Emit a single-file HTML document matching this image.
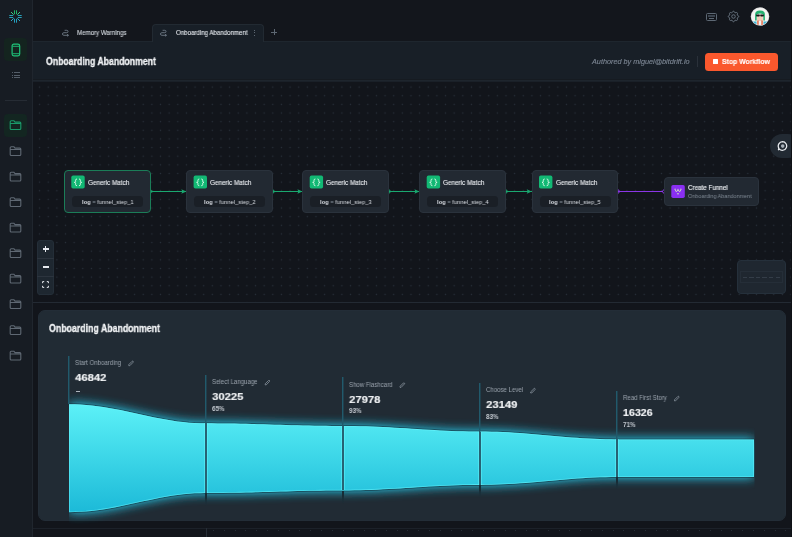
<!DOCTYPE html><html><head><meta charset="utf-8"><style>
*{box-sizing:border-box;margin:0;padding:0}
html,body{width:792px;height:537px;overflow:hidden;background:#12151b;font-family:"Liberation Sans",sans-serif;color:#e6e9ee}
.a{position:absolute}
.t{position:absolute;white-space:nowrap;transform-origin:0 50%;line-height:1;will-change:transform}
</style></head><body><div class="a" style="left:0;top:0;width:32px;height:537px;background:#171c23"></div>
<div class="a" style="left:32px;top:0;width:1px;height:537px;background:#20262e"></div>
<div class="a" style="left:33px;top:0;width:759px;height:41px;background:#13161c"></div>
<div class="a" style="left:33px;top:41px;width:759px;height:40px;background:#181f27"></div>
<div class="a" style="left:33px;top:41px;width:759px;height:1px;background:#1e262e"></div>
<div class="a" style="left:33px;top:79px;width:759px;height:1px;background:#161b21"></div>
<div class="a" style="left:33px;top:80px;width:759px;height:1px;background:#1e252d"></div>
<svg class="a" style="left:0;top:0" width="792" height="537"><defs><pattern id="dp" patternUnits="userSpaceOnUse" x="35.28" y="82.78" width="8.637" height="8.637"><circle cx="4.3185" cy="4.3185" r="0.7" fill="#28303a"/></pattern></defs><rect x="33" y="82" width="759" height="220" fill="#12151b"/><rect x="33" y="82" width="759" height="220" fill="url(#dp)"/></svg>
<div class="a" style="left:33px;top:81px;width:759px;height:1px;background:#1a2028"></div>
<div class="a" style="left:33px;top:302px;width:759px;height:1px;background:#232a33"></div>
<svg class="a" style="left:8px;top:9px" width="15" height="15" viewBox="-7.500 -7.500 15.000 15.000"><g stroke-width="0.9" stroke-linecap="butt" fill="none"><g transform="rotate(0)" stroke="#22c873"><path d="M-1 -2.3 V-6.2 M1 -2.3 V-6.2"/></g><g transform="rotate(180)" stroke="#25aed0"><path d="M-1 -2.3 V-6.2 M1 -2.3 V-6.2"/></g><g transform="rotate(90)" stroke="#2ab0cc"><path d="M-1 -2.3 V-6.2 M1 -2.3 V-6.2"/></g><g transform="rotate(270)" stroke="#2ab0cc"><path d="M-1 -2.3 V-6.2 M1 -2.3 V-6.2"/></g><g transform="rotate(45)" stroke="#3fd88a"><path d="M0 -2.6 V-6.3"/></g><g transform="rotate(-45)" stroke="#3fd88a"><path d="M0 -2.6 V-6.3"/></g><g transform="rotate(135)" stroke="#2ab6d4"><path d="M0 -2.6 V-6.3"/></g><g transform="rotate(-135)" stroke="#2ab6d4"><path d="M0 -2.6 V-6.3"/></g></g></svg>
<div class="a" style="left:4px;top:38px;width:23px;height:23px;background:#14241f;border-radius:4px"></div>
<svg class="a" style="left:11px;top:43px" width="10" height="14" viewBox="0.000 0.000 10.000 14.000"><rect x="1.1" y="1.2" width="7.6" height="11.6" rx="1.8" fill="none" stroke="#1fc47a" stroke-width="1.2"/><path d="M1.5 3.3 H8.3 M1.5 10.7 H8.3" stroke="#1fc47a" stroke-width="0.9"/></svg>
<div class="a" style="left:11.5px;top:72px;width:1px;height:1px;background:#555e69"></div>
<div class="a" style="left:14px;top:72px;width:5.5px;height:1px;background:#555e69"></div>
<div class="a" style="left:11.5px;top:75px;width:1px;height:1px;background:#555e69"></div>
<div class="a" style="left:14px;top:75px;width:5.5px;height:1px;background:#555e69"></div>
<div class="a" style="left:11.5px;top:77px;width:1px;height:1px;background:#555e69"></div>
<div class="a" style="left:14px;top:77px;width:5.5px;height:1px;background:#555e69"></div>
<div class="a" style="left:5px;top:100px;width:22px;height:1px;background:#262c34"></div>
<div class="a" style="left:4px;top:114px;width:23px;height:23px;background:#132621;border-radius:4px"></div>
<svg class="a" style="left:9px;top:119px" width="13" height="12" viewBox="0.000 -0.500 13.000 12.000"><path d="M1.2 2.2 Q1.2 1.2 2.2 1.2 H4.8 L6 2.6 H10.8 Q11.8 2.6 11.8 3.6 V9 Q11.8 10 10.8 10 H2.2 Q1.2 10 1.2 9 Z M1.2 4 H11.8" fill="none" stroke="#1a9a6a" stroke-width="1.1" stroke-linejoin="round"/></svg>
<svg class="a" style="left:9px;top:145px" width="13" height="12" viewBox="0.000 -0.500 13.000 12.000"><path d="M1.2 2.2 Q1.2 1.2 2.2 1.2 H4.8 L6 2.6 H10.8 Q11.8 2.6 11.8 3.6 V9 Q11.8 10 10.8 10 H2.2 Q1.2 10 1.2 9 Z M1.2 4 H11.8" fill="none" stroke="#5f6873" stroke-width="1.1" stroke-linejoin="round"/></svg>
<svg class="a" style="left:9px;top:171px" width="13" height="11" viewBox="0.000 0.000 13.000 11.000"><path d="M1.2 2.2 Q1.2 1.2 2.2 1.2 H4.8 L6 2.6 H10.8 Q11.8 2.6 11.8 3.6 V9 Q11.8 10 10.8 10 H2.2 Q1.2 10 1.2 9 Z M1.2 4 H11.8" fill="none" stroke="#5f6873" stroke-width="1.1" stroke-linejoin="round"/></svg>
<svg class="a" style="left:9px;top:196px" width="13" height="12" viewBox="0.000 -0.500 13.000 12.000"><path d="M1.2 2.2 Q1.2 1.2 2.2 1.2 H4.8 L6 2.6 H10.8 Q11.8 2.6 11.8 3.6 V9 Q11.8 10 10.8 10 H2.2 Q1.2 10 1.2 9 Z M1.2 4 H11.8" fill="none" stroke="#5f6873" stroke-width="1.1" stroke-linejoin="round"/></svg>
<svg class="a" style="left:9px;top:222px" width="13" height="11" viewBox="0.000 0.000 13.000 11.000"><path d="M1.2 2.2 Q1.2 1.2 2.2 1.2 H4.8 L6 2.6 H10.8 Q11.8 2.6 11.8 3.6 V9 Q11.8 10 10.8 10 H2.2 Q1.2 10 1.2 9 Z M1.2 4 H11.8" fill="none" stroke="#5f6873" stroke-width="1.1" stroke-linejoin="round"/></svg>
<svg class="a" style="left:9px;top:247px" width="13" height="12" viewBox="0.000 -0.500 13.000 12.000"><path d="M1.2 2.2 Q1.2 1.2 2.2 1.2 H4.8 L6 2.6 H10.8 Q11.8 2.6 11.8 3.6 V9 Q11.8 10 10.8 10 H2.2 Q1.2 10 1.2 9 Z M1.2 4 H11.8" fill="none" stroke="#5f6873" stroke-width="1.1" stroke-linejoin="round"/></svg>
<svg class="a" style="left:9px;top:273px" width="13" height="11" viewBox="0.000 0.000 13.000 11.000"><path d="M1.2 2.2 Q1.2 1.2 2.2 1.2 H4.8 L6 2.6 H10.8 Q11.8 2.6 11.8 3.6 V9 Q11.8 10 10.8 10 H2.2 Q1.2 10 1.2 9 Z M1.2 4 H11.8" fill="none" stroke="#5f6873" stroke-width="1.1" stroke-linejoin="round"/></svg>
<svg class="a" style="left:9px;top:298px" width="13" height="12" viewBox="0.000 -0.500 13.000 12.000"><path d="M1.2 2.2 Q1.2 1.2 2.2 1.2 H4.8 L6 2.6 H10.8 Q11.8 2.6 11.8 3.6 V9 Q11.8 10 10.8 10 H2.2 Q1.2 10 1.2 9 Z M1.2 4 H11.8" fill="none" stroke="#5f6873" stroke-width="1.1" stroke-linejoin="round"/></svg>
<svg class="a" style="left:9px;top:324px" width="13" height="12" viewBox="0.000 -0.500 13.000 12.000"><path d="M1.2 2.2 Q1.2 1.2 2.2 1.2 H4.8 L6 2.6 H10.8 Q11.8 2.6 11.8 3.6 V9 Q11.8 10 10.8 10 H2.2 Q1.2 10 1.2 9 Z M1.2 4 H11.8" fill="none" stroke="#5f6873" stroke-width="1.1" stroke-linejoin="round"/></svg>
<svg class="a" style="left:9px;top:350px" width="13" height="11" viewBox="0.000 0.000 13.000 11.000"><path d="M1.2 2.2 Q1.2 1.2 2.2 1.2 H4.8 L6 2.6 H10.8 Q11.8 2.6 11.8 3.6 V9 Q11.8 10 10.8 10 H2.2 Q1.2 10 1.2 9 Z M1.2 4 H11.8" fill="none" stroke="#5f6873" stroke-width="1.1" stroke-linejoin="round"/></svg>
<div class="a" style="left:152px;top:24px;width:112px;height:18px;background:#181f27;border:1px solid #222a32;border-bottom:none;border-radius:4px 4px 0 0"></div>
<svg class="a" style="left:61px;top:29px" width="9" height="8" viewBox="-0.500 -0.500 9.000 8.000"><path d="M3.5 0.8 H5.3 Q6.5 0.8 6.5 2 Q6.5 3.2 5.3 3.2 H2.3 Q1 3.2 1 4.5 Q1 5.8 2.3 5.8 H6.8 M5.8 4.9 L6.8 5.8 L5.8 6.6" fill="none" stroke="#6f7a87" stroke-width="0.9" stroke-linecap="round"/></svg>
<div class="t" style="left:76.70px;top:29.66px;font-size:6.6px;color:#d5dae0;font-weight:normal;font-style:normal;transform:scaleX(0.929);-webkit-text-stroke:0.1px #d5dae0">Memory Warnings</div>
<svg class="a" style="left:159px;top:29px" width="9" height="8" viewBox="-0.500 -0.500 9.000 8.000"><path d="M3.5 0.8 H5.3 Q6.5 0.8 6.5 2 Q6.5 3.2 5.3 3.2 H2.3 Q1 3.2 1 4.5 Q1 5.8 2.3 5.8 H6.8 M5.8 4.9 L6.8 5.8 L5.8 6.6" fill="none" stroke="#6f7a87" stroke-width="0.9" stroke-linecap="round"/></svg>
<div class="t" style="left:175.60px;top:29.66px;font-size:6.6px;color:#e3e7ec;font-weight:normal;font-style:normal;transform:scaleX(0.929);-webkit-text-stroke:0.1px #e3e7ec">Onboarding Abandonment</div>
<div class="a" style="left:253.5px;top:30px;width:1px;height:1px;background:#5d6772"></div>
<div class="a" style="left:253.5px;top:32.3px;width:1px;height:1px;background:#5d6772"></div>
<div class="a" style="left:253.5px;top:34.6px;width:1px;height:1px;background:#5d6772"></div>
<div class="a" style="left:271px;top:32px;width:6px;height:1px;background:#5d6772"></div>
<div class="a" style="left:274px;top:29px;width:1px;height:6px;background:#5d6772"></div>
<div class="a" style="left:705.5px;top:12.5px;width:11.5px;height:8.5px;border:1.1px solid #5d6874;border-radius:1.5px"></div>
<div class="a" style="left:707.5px;top:14.5px;width:7.5px;height:2.5px;background:#3b444f"></div>
<div class="a" style="left:708.5px;top:17.8px;width:5.5px;height:1px;background:#5d6874"></div>
<svg class="a" style="left:726px;top:9px" width="15" height="15" viewBox="-0.857 -0.857 25.714 25.714"><path fill="none" stroke="#65707c" stroke-width="1.7" stroke-linejoin="round" d="M10.325 4.317c.426 -1.756 2.924 -1.756 3.35 0a1.724 1.724 0 0 0 2.573 1.066c1.543 -.94 3.31 .826 2.37 2.37a1.724 1.724 0 0 0 1.065 2.572c1.756 .426 1.756 2.924 0 3.35a1.724 1.724 0 0 0 -1.066 2.573c.94 1.543 -.826 3.31 -2.37 2.37a1.724 1.724 0 0 0 -2.572 1.065c-.426 1.756 -2.924 1.756 -3.35 0a1.724 1.724 0 0 0 -2.573 -1.066c-1.543 .94 -3.31 -.826 -2.37 -2.37a1.724 1.724 0 0 0 -1.065 -2.572c-1.756 -.426 -1.756 -2.924 0 -3.35a1.724 1.724 0 0 0 1.066 -2.573c-.94 -1.543 .826 -3.31 2.37 -2.37c1 .608 2.296 .07 2.572 -1.065z"/><circle cx="12" cy="12" r="3" fill="none" stroke="#65707c" stroke-width="1.7"/></svg>
<svg class="a" style="left:750px;top:7px" width="20" height="19" viewBox="-0.500 0.000 20.000 19.000">
<defs><clipPath id="av"><circle cx="9.5" cy="9.5" r="8.6"/></clipPath></defs>
<circle cx="9.5" cy="9.5" r="9.3" fill="#d9d9db"/>
<circle cx="9.5" cy="9.5" r="8.6" fill="#f4f3f1"/>
<g clip-path="url(#av)">
<rect x="2" y="14.5" width="4" height="6" fill="#38b6d6"/><rect x="13" y="14.5" width="4" height="6" fill="#38b6d6"/>
<rect x="6.6" y="9" width="5.8" height="5" rx="1.5" fill="#efc9b9"/>
<path d="M4.6 13.5 V7.5 Q4.6 3.6 9.5 3.6 Q14.4 3.6 14.4 7.5 V13.5 H12.8 V8.2 Q12.8 6.6 9.5 6.6 Q6.2 6.6 6.2 8.2 V13.5 Z" fill="#24b070"/>
<rect x="5.6" y="7.6" width="3.6" height="1.9" rx="0.7" fill="#161616"/><rect x="9.8" y="7.6" width="3.6" height="1.9" rx="0.7" fill="#161616"/><rect x="8" y="7.8" width="3" height="0.6" fill="#161616"/>
<rect x="6.8" y="13.5" width="1.3" height="6" fill="#e85a30"/><rect x="10.9" y="13.5" width="1.3" height="6" fill="#e85a30"/>
</g></svg>
<div class="t" style="left:45.80px;top:56.84px;font-size:10.2px;color:#f1f3f5;font-weight:bold;font-style:normal;transform:scaleX(0.854);-webkit-text-stroke:0.3px #f1f3f5">Onboarding Abandonment</div>
<div class="t" style="left:592.00px;top:58.46px;font-size:7.2px;color:#7d8794;font-weight:normal;font-style:italic;transform:scaleX(1.012);-webkit-text-stroke:0.12px #7d8794">Authored by miguel@bitdrift.io</div>
<div class="a" style="left:697px;top:56px;width:1px;height:10.5px;background:#2a313a"></div>
<div class="a" style="left:705px;top:52.5px;width:73px;height:18px;background:#fa582d;border-radius:3.5px"></div>
<div class="a" style="left:712.5px;top:59px;width:5px;height:5px;background:#ffffff;border-radius:0.5px"></div>
<div class="t" style="left:721.90px;top:58.36px;font-size:7.2px;color:#ffffff;font-weight:bold;font-style:normal;transform:scaleX(0.955);-webkit-text-stroke:0.12px #ffffff">Stop Workflow</div>
<div class="a" style="left:150.5px;top:191.0px;width:35.80000000000001px;height:1px;background:#1aa870"></div>
<svg class="a" style="left:181px;top:188px" width="6" height="7" viewBox="-0.300 -0.500 6.000 7.000"><path d="M0 0.8 L5 3 L0 5.2 L1 3 Z" fill="#1aa870"/></svg>
<svg class="a" style="left:150px;top:188px" width="4" height="7" viewBox="0.000 -0.500 4.000 7.000"><path d="M0.3 0.6 Q1.2 3 3 3 Q1.2 3 0.3 5.4" fill="none" stroke="#1aa870" stroke-width="0.9"/></svg>
<div class="a" style="left:272.8px;top:191.0px;width:29.599999999999966px;height:1px;background:#1aa870"></div>
<svg class="a" style="left:297px;top:188px" width="6" height="7" viewBox="-0.400 -0.500 6.000 7.000"><path d="M0 0.8 L5 3 L0 5.2 L1 3 Z" fill="#1aa870"/></svg>
<svg class="a" style="left:272px;top:188px" width="5" height="7" viewBox="-0.300 -0.500 5.000 7.000"><path d="M0.3 0.6 Q1.2 3 3 3 Q1.2 3 0.3 5.4" fill="none" stroke="#1aa870" stroke-width="0.9"/></svg>
<div class="a" style="left:388.9px;top:191.0px;width:30.5px;height:1px;background:#1aa870"></div>
<svg class="a" style="left:414px;top:188px" width="6" height="7" viewBox="-0.400 -0.500 6.000 7.000"><path d="M0 0.8 L5 3 L0 5.2 L1 3 Z" fill="#1aa870"/></svg>
<svg class="a" style="left:388px;top:188px" width="5" height="7" viewBox="-0.400 -0.500 5.000 7.000"><path d="M0.3 0.6 Q1.2 3 3 3 Q1.2 3 0.3 5.4" fill="none" stroke="#1aa870" stroke-width="0.9"/></svg>
<div class="a" style="left:505.9px;top:191.0px;width:25.800000000000068px;height:1px;background:#1aa870"></div>
<svg class="a" style="left:526px;top:188px" width="6" height="7" viewBox="-0.700 -0.500 6.000 7.000"><path d="M0 0.8 L5 3 L0 5.2 L1 3 Z" fill="#1aa870"/></svg>
<svg class="a" style="left:505px;top:188px" width="5" height="7" viewBox="-0.400 -0.500 5.000 7.000"><path d="M0.3 0.6 Q1.2 3 3 3 Q1.2 3 0.3 5.4" fill="none" stroke="#1aa870" stroke-width="0.9"/></svg>
<div class="a" style="left:618px;top:191.0px;width:45px;height:1px;background:#8a35e6"></div>
<svg class="a" style="left:617px;top:188px" width="5" height="7" viewBox="-0.500 -0.500 5.000 7.000"><path d="M0.3 0.6 Q1.2 3 3 3 Q1.2 3 0.3 5.4" fill="none" stroke="#8a35e6" stroke-width="0.9"/></svg>
<svg class="a" style="left:660px;top:188px" width="5" height="7" viewBox="-0.500 -0.500 5.000 7.000"><path d="M3.7 0.6 Q2.8 3 1 3 Q2.8 3 3.7 5.4" fill="none" stroke="#8a35e6" stroke-width="0.9"/></svg>
<div class="a" style="left:64px;top:170px;width:86.5px;height:42.6px;background:#222932;border:1px solid #1b7d58;border-radius:4px"></div>
<svg class="a" style="left:71px;top:175px" width="14" height="14" viewBox="-0.300 -0.600 14.000 14.000"><rect width="13.4" height="13" rx="1.8" fill="#12b874"/><path d="M5.7 3.4 Q4.3 3.4 4.3 4.6 V5.9 Q4.3 6.75 3.0 6.75 Q4.3 6.75 4.3 7.6 V8.9 Q4.3 10.1 5.7 10.1 M7.7 3.4 Q9.1 3.4 9.1 4.6 V5.9 Q9.1 6.75 10.4 6.75 Q9.1 6.75 9.1 7.6 V8.9 Q9.1 10.1 7.7 10.1" fill="none" stroke="#d8f8e8" stroke-width="0.95"/></svg>
<div class="t" style="left:88.00px;top:179.61px;font-size:6.7px;color:#e8ebef;font-weight:normal;font-style:normal;transform:scaleX(0.950);-webkit-text-stroke:0.12px #e8ebef">Generic Match</div>
<div class="a" style="left:72px;top:196px;width:71px;height:11px;background:#1a1f26;border-radius:3.5px"></div>
<div class="t" style="left:81.70px;top:199.16px;font-size:6.0px;color:#d9dde3;font-weight:normal;font-style:normal;transform:scaleX(0.964);"><b>log</b> <span style="color:#8b95a1">=</span> funnel_step_1</div>
<div class="a" style="left:186.3px;top:170px;width:86.5px;height:42.6px;background:#222932;border:1px solid #2a323c;border-radius:4px"></div>
<svg class="a" style="left:193px;top:175px" width="15" height="14" viewBox="-0.600 -0.600 15.000 14.000"><rect width="13.4" height="13" rx="1.8" fill="#12b874"/><path d="M5.7 3.4 Q4.3 3.4 4.3 4.6 V5.9 Q4.3 6.75 3.0 6.75 Q4.3 6.75 4.3 7.6 V8.9 Q4.3 10.1 5.7 10.1 M7.7 3.4 Q9.1 3.4 9.1 4.6 V5.9 Q9.1 6.75 10.4 6.75 Q9.1 6.75 9.1 7.6 V8.9 Q9.1 10.1 7.7 10.1" fill="none" stroke="#d8f8e8" stroke-width="0.95"/></svg>
<div class="t" style="left:210.30px;top:179.61px;font-size:6.7px;color:#e8ebef;font-weight:normal;font-style:normal;transform:scaleX(0.950);-webkit-text-stroke:0.12px #e8ebef">Generic Match</div>
<div class="a" style="left:194.3px;top:196px;width:71px;height:11px;background:#1a1f26;border-radius:3.5px"></div>
<div class="t" style="left:204.00px;top:199.16px;font-size:6.0px;color:#d9dde3;font-weight:normal;font-style:normal;transform:scaleX(0.964);"><b>log</b> <span style="color:#8b95a1">=</span> funnel_step_2</div>
<div class="a" style="left:302.4px;top:170px;width:86.5px;height:42.6px;background:#222932;border:1px solid #2a323c;border-radius:4px"></div>
<svg class="a" style="left:309px;top:175px" width="15" height="14" viewBox="-0.700 -0.600 15.000 14.000"><rect width="13.4" height="13" rx="1.8" fill="#12b874"/><path d="M5.7 3.4 Q4.3 3.4 4.3 4.6 V5.9 Q4.3 6.75 3.0 6.75 Q4.3 6.75 4.3 7.6 V8.9 Q4.3 10.1 5.7 10.1 M7.7 3.4 Q9.1 3.4 9.1 4.6 V5.9 Q9.1 6.75 10.4 6.75 Q9.1 6.75 9.1 7.6 V8.9 Q9.1 10.1 7.7 10.1" fill="none" stroke="#d8f8e8" stroke-width="0.95"/></svg>
<div class="t" style="left:326.40px;top:179.61px;font-size:6.7px;color:#e8ebef;font-weight:normal;font-style:normal;transform:scaleX(0.950);-webkit-text-stroke:0.12px #e8ebef">Generic Match</div>
<div class="a" style="left:310.4px;top:196px;width:71px;height:11px;background:#1a1f26;border-radius:3.5px"></div>
<div class="t" style="left:320.10px;top:199.16px;font-size:6.0px;color:#d9dde3;font-weight:normal;font-style:normal;transform:scaleX(0.964);"><b>log</b> <span style="color:#8b95a1">=</span> funnel_step_3</div>
<div class="a" style="left:419.4px;top:170px;width:86.5px;height:42.6px;background:#222932;border:1px solid #2a323c;border-radius:4px"></div>
<svg class="a" style="left:426px;top:175px" width="15" height="14" viewBox="-0.700 -0.600 15.000 14.000"><rect width="13.4" height="13" rx="1.8" fill="#12b874"/><path d="M5.7 3.4 Q4.3 3.4 4.3 4.6 V5.9 Q4.3 6.75 3.0 6.75 Q4.3 6.75 4.3 7.6 V8.9 Q4.3 10.1 5.7 10.1 M7.7 3.4 Q9.1 3.4 9.1 4.6 V5.9 Q9.1 6.75 10.4 6.75 Q9.1 6.75 9.1 7.6 V8.9 Q9.1 10.1 7.7 10.1" fill="none" stroke="#d8f8e8" stroke-width="0.95"/></svg>
<div class="t" style="left:443.40px;top:179.61px;font-size:6.7px;color:#e8ebef;font-weight:normal;font-style:normal;transform:scaleX(0.950);-webkit-text-stroke:0.12px #e8ebef">Generic Match</div>
<div class="a" style="left:427.4px;top:196px;width:71px;height:11px;background:#1a1f26;border-radius:3.5px"></div>
<div class="t" style="left:437.10px;top:199.16px;font-size:6.0px;color:#d9dde3;font-weight:normal;font-style:normal;transform:scaleX(0.964);"><b>log</b> <span style="color:#8b95a1">=</span> funnel_step_4</div>
<div class="a" style="left:531.7px;top:170px;width:86.5px;height:42.6px;background:#222932;border:1px solid #2a323c;border-radius:4px"></div>
<svg class="a" style="left:539px;top:175px" width="14" height="14" viewBox="0.000 -0.600 14.000 14.000"><rect width="13.4" height="13" rx="1.8" fill="#12b874"/><path d="M5.7 3.4 Q4.3 3.4 4.3 4.6 V5.9 Q4.3 6.75 3.0 6.75 Q4.3 6.75 4.3 7.6 V8.9 Q4.3 10.1 5.7 10.1 M7.7 3.4 Q9.1 3.4 9.1 4.6 V5.9 Q9.1 6.75 10.4 6.75 Q9.1 6.75 9.1 7.6 V8.9 Q9.1 10.1 7.7 10.1" fill="none" stroke="#d8f8e8" stroke-width="0.95"/></svg>
<div class="t" style="left:555.70px;top:179.61px;font-size:6.7px;color:#e8ebef;font-weight:normal;font-style:normal;transform:scaleX(0.950);-webkit-text-stroke:0.12px #e8ebef">Generic Match</div>
<div class="a" style="left:539.7px;top:196px;width:71px;height:11px;background:#1a1f26;border-radius:3.5px"></div>
<div class="t" style="left:549.40px;top:199.16px;font-size:6.0px;color:#d9dde3;font-weight:normal;font-style:normal;transform:scaleX(0.964);"><b>log</b> <span style="color:#8b95a1">=</span> funnel_step_5</div>
<div class="a" style="left:664px;top:177px;width:95px;height:28.5px;background:#222932;border:1px solid #2a323c;border-radius:4px"></div>
<svg class="a" style="left:671px;top:185px" width="14" height="13" viewBox="0.000 0.000 14.000 13.000"><rect x="0.3" y="0" width="13.5" height="13" rx="1.8" fill="#8a2ff2"/><path d="M4.2 4.6 L5.3 6.8 L7 5.2 L8.7 6.8 L9.8 4.6" fill="none" stroke="#cfe3bd" stroke-width="1" stroke-linejoin="round"/><circle cx="4.1" cy="4.2" r="0.6" fill="#cfe3bd"/><circle cx="7" cy="4.4" r="0.6" fill="#cfe3bd"/><circle cx="9.9" cy="4.2" r="0.6" fill="#cfe3bd"/><path d="M6.1 8.8 H7.9" stroke="#cfe3bd" stroke-width="1"/></svg>
<div class="t" style="left:687.70px;top:184.86px;font-size:6.6px;color:#e8ebef;font-weight:normal;font-style:normal;transform:scaleX(0.949);-webkit-text-stroke:0.15px #e8ebef">Create Funnel</div>
<div class="t" style="left:687.70px;top:193.51px;font-size:5.9px;color:#7f8994;font-weight:normal;font-style:normal;transform:scaleX(0.925);">Onboarding Abandonment</div>
<div class="a" style="left:37px;top:240px;width:17px;height:55px;background:#1e2730;border:1px solid #242e38;border-radius:3px"></div>
<div class="a" style="left:37px;top:257.5px;width:17px;height:1px;background:#2c343e"></div>
<div class="a" style="left:37px;top:276px;width:17px;height:1px;background:#2c343e"></div>
<div class="a" style="left:42.5px;top:248.3px;width:6px;height:1.3px;background:#e6e9ee"></div>
<div class="a" style="left:44.8px;top:246px;width:1.3px;height:6px;background:#e6e9ee"></div>
<div class="a" style="left:42.5px;top:266.3px;width:6px;height:1.3px;background:#e6e9ee"></div>
<svg class="a" style="left:42px;top:281px" width="7" height="7" viewBox="0.000 0.000 7.000 7.000"><path d="M0.6 2.2 V0.6 H2.2 M4.8 0.6 H6.4 V2.2 M6.4 4.8 V6.4 H4.8 M2.2 6.4 H0.6 V4.8" fill="none" stroke="#e6e9ee" stroke-width="1"/></svg>
<div class="a" style="left:770px;top:134px;width:30px;height:24px;background:#222a33;border-radius:12px"></div>
<svg class="a" style="left:777px;top:140px" width="11" height="12" viewBox="0.000 -0.500 11.000 12.000"><path d="M5.5 1.2 A4.3 4.3 0 1 1 2.2 8.4 L1.4 9.6 L1.8 7.6 A4.3 4.3 0 0 1 5.5 1.2 Z" fill="none" stroke="#e8ebef" stroke-width="1.25"/><circle cx="5.7" cy="5.6" r="1.8" fill="#a9b1ba"/></svg>
<div class="a" style="left:737px;top:260px;width:49px;height:34px;background:#1f2730;border:1px solid #25303b;border-radius:4px"></div>
<div class="a" style="left:740px;top:271px;width:43px;height:12px;border:1px solid #252e38"></div>
<div class="a" style="left:742.5px;top:276.5px;width:4.5px;height:1px;background:#343d48"></div>
<div class="a" style="left:749.1px;top:276.5px;width:4.5px;height:1px;background:#343d48"></div>
<div class="a" style="left:755.7px;top:276.5px;width:4.5px;height:1px;background:#343d48"></div>
<div class="a" style="left:762.3px;top:276.5px;width:4.5px;height:1px;background:#343d48"></div>
<div class="a" style="left:768.9px;top:276.5px;width:4.5px;height:1px;background:#343d48"></div>
<div class="a" style="left:775.5px;top:276.5px;width:4.5px;height:1px;background:#343d48"></div>
<div class="a" style="left:790.5px;top:0;width:1.5px;height:537px;background:#0e1115"></div>
<div class="a" style="left:33px;top:303px;width:758px;height:234px;background:#12151b"></div>
<div class="a" style="left:37.5px;top:310px;width:748px;height:211px;background:#212b34;border:1px solid #232d37;border-radius:7px"></div>
<div class="a" style="left:33px;top:528px;width:758px;height:1px;background:#1c2129"></div>
<div class="a" style="left:205.5px;top:528px;width:1px;height:9px;background:#262d36"></div>
<div class="a" style="left:213.0px;top:530px;width:1px;height:1px;background:#262d36"></div>
<div class="a" style="left:223.8px;top:530px;width:1px;height:1px;background:#262d36"></div>
<div class="a" style="left:234.6px;top:530px;width:1px;height:1px;background:#262d36"></div>
<div class="a" style="left:245.4px;top:530px;width:1px;height:1px;background:#262d36"></div>
<div class="a" style="left:256.2px;top:530px;width:1px;height:1px;background:#262d36"></div>
<div class="a" style="left:267.0px;top:530px;width:1px;height:1px;background:#262d36"></div>
<div class="a" style="left:277.8px;top:530px;width:1px;height:1px;background:#262d36"></div>
<div class="a" style="left:288.6px;top:530px;width:1px;height:1px;background:#262d36"></div>
<div class="a" style="left:299.4px;top:530px;width:1px;height:1px;background:#262d36"></div>
<div class="a" style="left:310.2px;top:530px;width:1px;height:1px;background:#262d36"></div>
<div class="a" style="left:321.0px;top:530px;width:1px;height:1px;background:#262d36"></div>
<div class="a" style="left:331.8px;top:530px;width:1px;height:1px;background:#262d36"></div>
<div class="a" style="left:342.6px;top:530px;width:1px;height:1px;background:#262d36"></div>
<div class="a" style="left:353.4px;top:530px;width:1px;height:1px;background:#262d36"></div>
<div class="a" style="left:364.2px;top:530px;width:1px;height:1px;background:#262d36"></div>
<div class="a" style="left:375.0px;top:530px;width:1px;height:1px;background:#262d36"></div>
<div class="a" style="left:385.8px;top:530px;width:1px;height:1px;background:#262d36"></div>
<div class="a" style="left:396.6px;top:530px;width:1px;height:1px;background:#262d36"></div>
<div class="a" style="left:407.4px;top:530px;width:1px;height:1px;background:#262d36"></div>
<div class="a" style="left:418.2px;top:530px;width:1px;height:1px;background:#262d36"></div>
<div class="a" style="left:429.0px;top:530px;width:1px;height:1px;background:#262d36"></div>
<div class="a" style="left:439.8px;top:530px;width:1px;height:1px;background:#262d36"></div>
<div class="a" style="left:450.6px;top:530px;width:1px;height:1px;background:#262d36"></div>
<div class="a" style="left:461.4px;top:530px;width:1px;height:1px;background:#262d36"></div>
<div class="a" style="left:472.2px;top:530px;width:1px;height:1px;background:#262d36"></div>
<div class="a" style="left:483.0px;top:530px;width:1px;height:1px;background:#262d36"></div>
<div class="a" style="left:493.8px;top:530px;width:1px;height:1px;background:#262d36"></div>
<div class="a" style="left:504.6px;top:530px;width:1px;height:1px;background:#262d36"></div>
<div class="a" style="left:515.4px;top:530px;width:1px;height:1px;background:#262d36"></div>
<div class="a" style="left:526.2px;top:530px;width:1px;height:1px;background:#262d36"></div>
<div class="a" style="left:537.0px;top:530px;width:1px;height:1px;background:#262d36"></div>
<div class="a" style="left:547.8px;top:530px;width:1px;height:1px;background:#262d36"></div>
<div class="a" style="left:558.6px;top:530px;width:1px;height:1px;background:#262d36"></div>
<div class="a" style="left:569.4px;top:530px;width:1px;height:1px;background:#262d36"></div>
<div class="a" style="left:580.2px;top:530px;width:1px;height:1px;background:#262d36"></div>
<div class="a" style="left:591.0px;top:530px;width:1px;height:1px;background:#262d36"></div>
<div class="a" style="left:601.8px;top:530px;width:1px;height:1px;background:#262d36"></div>
<div class="a" style="left:612.6px;top:530px;width:1px;height:1px;background:#262d36"></div>
<div class="a" style="left:623.4px;top:530px;width:1px;height:1px;background:#262d36"></div>
<div class="a" style="left:634.2px;top:530px;width:1px;height:1px;background:#262d36"></div>
<div class="a" style="left:645.0px;top:530px;width:1px;height:1px;background:#262d36"></div>
<div class="a" style="left:655.8px;top:530px;width:1px;height:1px;background:#262d36"></div>
<div class="a" style="left:666.6px;top:530px;width:1px;height:1px;background:#262d36"></div>
<div class="a" style="left:677.4px;top:530px;width:1px;height:1px;background:#262d36"></div>
<div class="a" style="left:688.2px;top:530px;width:1px;height:1px;background:#262d36"></div>
<div class="a" style="left:699.0px;top:530px;width:1px;height:1px;background:#262d36"></div>
<div class="a" style="left:709.8px;top:530px;width:1px;height:1px;background:#262d36"></div>
<div class="a" style="left:720.6px;top:530px;width:1px;height:1px;background:#262d36"></div>
<div class="a" style="left:731.4px;top:530px;width:1px;height:1px;background:#262d36"></div>
<div class="a" style="left:742.2px;top:530px;width:1px;height:1px;background:#262d36"></div>
<div class="a" style="left:753.0px;top:530px;width:1px;height:1px;background:#262d36"></div>
<div class="a" style="left:763.8px;top:530px;width:1px;height:1px;background:#262d36"></div>
<div class="a" style="left:774.6px;top:530px;width:1px;height:1px;background:#262d36"></div>
<div class="a" style="left:785.4px;top:530px;width:1px;height:1px;background:#262d36"></div>
<div class="t" style="left:49.00px;top:323.94px;font-size:10.2px;color:#f1f3f5;font-weight:bold;font-style:normal;transform:scaleX(0.862);-webkit-text-stroke:0.3px #f1f3f5">Onboarding Abandonment</div>
<svg class="a" style="left:0;top:0" width="792" height="537">
<defs>
<linearGradient id="fg" x1="0" y1="404" x2="0" y2="512" gradientUnits="userSpaceOnUse"><stop offset="0" stop-color="#5cf1f7"/><stop offset="1" stop-color="#1cbad8"/></linearGradient>
<filter id="glow" x="-20%" y="-40%" width="140%" height="180%"><feGaussianBlur stdDeviation="6"/><feComponentTransfer><feFuncA type="linear" slope="1.9"/></feComponentTransfer></filter>
<clipPath id="gc"><rect x="69" y="380" width="685.5" height="150"/></clipPath>
</defs>
<clipPath id="fcp"><path d="M69.00 404.20 L74.71 404.28 L80.42 404.53 L86.12 404.93 L91.83 405.48 L97.54 406.18 L103.25 407.01 L108.96 407.95 L114.67 408.99 L120.38 410.11 L126.08 411.30 L131.79 412.53 L137.50 413.78 L143.21 415.03 L148.92 416.26 L154.62 417.44 L160.33 418.57 L166.04 419.61 L171.75 420.55 L177.46 421.38 L183.17 422.07 L188.88 422.63 L194.58 423.03 L200.29 423.27 L206.00 423.36 L211.71 423.37 L217.42 423.40 L223.12 423.45 L228.83 423.53 L234.54 423.62 L240.25 423.74 L245.96 423.86 L251.67 424.00 L257.38 424.16 L263.08 424.32 L268.79 424.48 L274.50 424.65 L280.21 424.82 L285.92 424.99 L291.62 425.15 L297.33 425.30 L303.04 425.44 L308.75 425.57 L314.46 425.68 L320.17 425.77 L325.88 425.85 L331.58 425.90 L337.29 425.94 L343.00 425.95 L348.71 425.97 L354.42 426.04 L360.12 426.16 L365.83 426.32 L371.54 426.52 L377.25 426.76 L382.96 427.04 L388.67 427.34 L394.38 427.66 L400.08 428.01 L405.79 428.37 L411.50 428.73 L417.21 429.09 L422.92 429.45 L428.62 429.80 L434.33 430.12 L440.04 430.42 L445.75 430.70 L451.46 430.94 L457.17 431.14 L462.88 431.30 L468.58 431.42 L474.29 431.49 L480.00 431.51 L485.71 431.55 L491.42 431.65 L497.12 431.81 L502.83 432.04 L508.54 432.33 L514.25 432.67 L519.96 433.05 L525.67 433.48 L531.38 433.94 L537.08 434.43 L542.79 434.93 L548.50 435.45 L554.21 435.96 L559.92 436.46 L565.62 436.95 L571.33 437.41 L577.04 437.84 L582.75 438.23 L588.46 438.57 L594.17 438.85 L599.88 439.08 L605.58 439.25 L611.29 439.35 L617.00 439.38 L622.71 439.38 L628.42 439.38 L634.12 439.38 L639.83 439.38 L645.54 439.38 L651.25 439.38 L656.96 439.38 L662.67 439.38 L668.38 439.38 L674.08 439.38 L679.79 439.38 L685.50 439.38 L691.21 439.38 L696.92 439.38 L702.62 439.38 L708.33 439.38 L714.04 439.38 L719.75 439.38 L725.46 439.38 L731.17 439.38 L736.88 439.38 L742.58 439.38 L748.29 439.38 L754.00 439.38 L754.00 477.02 L748.29 477.02 L742.58 477.02 L736.88 477.02 L731.17 477.02 L725.46 477.02 L719.75 477.02 L714.04 477.02 L708.33 477.02 L702.62 477.02 L696.92 477.02 L691.21 477.02 L685.50 477.02 L679.79 477.02 L674.08 477.02 L668.38 477.02 L662.67 477.02 L656.96 477.02 L651.25 477.02 L645.54 477.02 L639.83 477.02 L634.12 477.02 L628.42 477.02 L622.71 477.02 L617.00 477.02 L611.29 477.05 L605.58 477.15 L599.88 477.32 L594.17 477.55 L588.46 477.83 L582.75 478.17 L577.04 478.56 L571.33 478.99 L565.62 479.45 L559.92 479.94 L554.21 480.44 L548.50 480.95 L542.79 481.47 L537.08 481.97 L531.38 482.46 L525.67 482.92 L519.96 483.35 L514.25 483.73 L508.54 484.07 L502.83 484.36 L497.12 484.59 L491.42 484.75 L485.71 484.85 L480.00 484.89 L474.29 484.91 L468.58 484.98 L462.88 485.10 L457.17 485.26 L451.46 485.46 L445.75 485.70 L440.04 485.98 L434.33 486.28 L428.62 486.60 L422.92 486.95 L417.21 487.31 L411.50 487.67 L405.79 488.03 L400.08 488.39 L394.38 488.74 L388.67 489.06 L382.96 489.36 L377.25 489.64 L371.54 489.88 L365.83 490.08 L360.12 490.24 L354.42 490.36 L348.71 490.43 L343.00 490.45 L337.29 490.46 L331.58 490.50 L325.88 490.55 L320.17 490.63 L314.46 490.72 L308.75 490.83 L303.04 490.96 L297.33 491.10 L291.62 491.25 L285.92 491.41 L280.21 491.58 L274.50 491.75 L268.79 491.92 L263.08 492.08 L257.38 492.24 L251.67 492.40 L245.96 492.54 L240.25 492.66 L234.54 492.78 L228.83 492.87 L223.12 492.95 L217.42 493.00 L211.71 493.03 L206.00 493.04 L200.29 493.13 L194.58 493.37 L188.88 493.77 L183.17 494.33 L177.46 495.02 L171.75 495.85 L166.04 496.79 L160.33 497.83 L154.62 498.96 L148.92 500.14 L143.21 501.37 L137.50 502.62 L131.79 503.87 L126.08 505.10 L120.38 506.29 L114.67 507.41 L108.96 508.45 L103.25 509.39 L97.54 510.22 L91.83 510.92 L86.12 511.47 L80.42 511.87 L74.71 512.12 L69.00 512.20 Z"/></clipPath>
<g clip-path="url(#gc)"><path d="M69.00 404.20 L74.71 404.28 L80.42 404.53 L86.12 404.93 L91.83 405.48 L97.54 406.18 L103.25 407.01 L108.96 407.95 L114.67 408.99 L120.38 410.11 L126.08 411.30 L131.79 412.53 L137.50 413.78 L143.21 415.03 L148.92 416.26 L154.62 417.44 L160.33 418.57 L166.04 419.61 L171.75 420.55 L177.46 421.38 L183.17 422.07 L188.88 422.63 L194.58 423.03 L200.29 423.27 L206.00 423.36 L211.71 423.37 L217.42 423.40 L223.12 423.45 L228.83 423.53 L234.54 423.62 L240.25 423.74 L245.96 423.86 L251.67 424.00 L257.38 424.16 L263.08 424.32 L268.79 424.48 L274.50 424.65 L280.21 424.82 L285.92 424.99 L291.62 425.15 L297.33 425.30 L303.04 425.44 L308.75 425.57 L314.46 425.68 L320.17 425.77 L325.88 425.85 L331.58 425.90 L337.29 425.94 L343.00 425.95 L348.71 425.97 L354.42 426.04 L360.12 426.16 L365.83 426.32 L371.54 426.52 L377.25 426.76 L382.96 427.04 L388.67 427.34 L394.38 427.66 L400.08 428.01 L405.79 428.37 L411.50 428.73 L417.21 429.09 L422.92 429.45 L428.62 429.80 L434.33 430.12 L440.04 430.42 L445.75 430.70 L451.46 430.94 L457.17 431.14 L462.88 431.30 L468.58 431.42 L474.29 431.49 L480.00 431.51 L485.71 431.55 L491.42 431.65 L497.12 431.81 L502.83 432.04 L508.54 432.33 L514.25 432.67 L519.96 433.05 L525.67 433.48 L531.38 433.94 L537.08 434.43 L542.79 434.93 L548.50 435.45 L554.21 435.96 L559.92 436.46 L565.62 436.95 L571.33 437.41 L577.04 437.84 L582.75 438.23 L588.46 438.57 L594.17 438.85 L599.88 439.08 L605.58 439.25 L611.29 439.35 L617.00 439.38 L622.71 439.38 L628.42 439.38 L634.12 439.38 L639.83 439.38 L645.54 439.38 L651.25 439.38 L656.96 439.38 L662.67 439.38 L668.38 439.38 L674.08 439.38 L679.79 439.38 L685.50 439.38 L691.21 439.38 L696.92 439.38 L702.62 439.38 L708.33 439.38 L714.04 439.38 L719.75 439.38 L725.46 439.38 L731.17 439.38 L736.88 439.38 L742.58 439.38 L748.29 439.38 L754.00 439.38 L754.00 477.02 L748.29 477.02 L742.58 477.02 L736.88 477.02 L731.17 477.02 L725.46 477.02 L719.75 477.02 L714.04 477.02 L708.33 477.02 L702.62 477.02 L696.92 477.02 L691.21 477.02 L685.50 477.02 L679.79 477.02 L674.08 477.02 L668.38 477.02 L662.67 477.02 L656.96 477.02 L651.25 477.02 L645.54 477.02 L639.83 477.02 L634.12 477.02 L628.42 477.02 L622.71 477.02 L617.00 477.02 L611.29 477.05 L605.58 477.15 L599.88 477.32 L594.17 477.55 L588.46 477.83 L582.75 478.17 L577.04 478.56 L571.33 478.99 L565.62 479.45 L559.92 479.94 L554.21 480.44 L548.50 480.95 L542.79 481.47 L537.08 481.97 L531.38 482.46 L525.67 482.92 L519.96 483.35 L514.25 483.73 L508.54 484.07 L502.83 484.36 L497.12 484.59 L491.42 484.75 L485.71 484.85 L480.00 484.89 L474.29 484.91 L468.58 484.98 L462.88 485.10 L457.17 485.26 L451.46 485.46 L445.75 485.70 L440.04 485.98 L434.33 486.28 L428.62 486.60 L422.92 486.95 L417.21 487.31 L411.50 487.67 L405.79 488.03 L400.08 488.39 L394.38 488.74 L388.67 489.06 L382.96 489.36 L377.25 489.64 L371.54 489.88 L365.83 490.08 L360.12 490.24 L354.42 490.36 L348.71 490.43 L343.00 490.45 L337.29 490.46 L331.58 490.50 L325.88 490.55 L320.17 490.63 L314.46 490.72 L308.75 490.83 L303.04 490.96 L297.33 491.10 L291.62 491.25 L285.92 491.41 L280.21 491.58 L274.50 491.75 L268.79 491.92 L263.08 492.08 L257.38 492.24 L251.67 492.40 L245.96 492.54 L240.25 492.66 L234.54 492.78 L228.83 492.87 L223.12 492.95 L217.42 493.00 L211.71 493.03 L206.00 493.04 L200.29 493.13 L194.58 493.37 L188.88 493.77 L183.17 494.33 L177.46 495.02 L171.75 495.85 L166.04 496.79 L160.33 497.83 L154.62 498.96 L148.92 500.14 L143.21 501.37 L137.50 502.62 L131.79 503.87 L126.08 505.10 L120.38 506.29 L114.67 507.41 L108.96 508.45 L103.25 509.39 L97.54 510.22 L91.83 510.92 L86.12 511.47 L80.42 511.87 L74.71 512.12 L69.00 512.20 Z" fill="#26b3d0" opacity="0.75" filter="url(#glow)"/><path d="M69.00 404.20 L74.71 404.28 L80.42 404.53 L86.12 404.93 L91.83 405.48 L97.54 406.18 L103.25 407.01 L108.96 407.95 L114.67 408.99 L120.38 410.11 L126.08 411.30 L131.79 412.53 L137.50 413.78 L143.21 415.03 L148.92 416.26 L154.62 417.44 L160.33 418.57 L166.04 419.61 L171.75 420.55 L177.46 421.38 L183.17 422.07 L188.88 422.63 L194.58 423.03 L200.29 423.27 L206.00 423.36 L211.71 423.37 L217.42 423.40 L223.12 423.45 L228.83 423.53 L234.54 423.62 L240.25 423.74 L245.96 423.86 L251.67 424.00 L257.38 424.16 L263.08 424.32 L268.79 424.48 L274.50 424.65 L280.21 424.82 L285.92 424.99 L291.62 425.15 L297.33 425.30 L303.04 425.44 L308.75 425.57 L314.46 425.68 L320.17 425.77 L325.88 425.85 L331.58 425.90 L337.29 425.94 L343.00 425.95 L348.71 425.97 L354.42 426.04 L360.12 426.16 L365.83 426.32 L371.54 426.52 L377.25 426.76 L382.96 427.04 L388.67 427.34 L394.38 427.66 L400.08 428.01 L405.79 428.37 L411.50 428.73 L417.21 429.09 L422.92 429.45 L428.62 429.80 L434.33 430.12 L440.04 430.42 L445.75 430.70 L451.46 430.94 L457.17 431.14 L462.88 431.30 L468.58 431.42 L474.29 431.49 L480.00 431.51 L485.71 431.55 L491.42 431.65 L497.12 431.81 L502.83 432.04 L508.54 432.33 L514.25 432.67 L519.96 433.05 L525.67 433.48 L531.38 433.94 L537.08 434.43 L542.79 434.93 L548.50 435.45 L554.21 435.96 L559.92 436.46 L565.62 436.95 L571.33 437.41 L577.04 437.84 L582.75 438.23 L588.46 438.57 L594.17 438.85 L599.88 439.08 L605.58 439.25 L611.29 439.35 L617.00 439.38 L622.71 439.38 L628.42 439.38 L634.12 439.38 L639.83 439.38 L645.54 439.38 L651.25 439.38 L656.96 439.38 L662.67 439.38 L668.38 439.38 L674.08 439.38 L679.79 439.38 L685.50 439.38 L691.21 439.38 L696.92 439.38 L702.62 439.38 L708.33 439.38 L714.04 439.38 L719.75 439.38 L725.46 439.38 L731.17 439.38 L736.88 439.38 L742.58 439.38 L748.29 439.38 L754.00 439.38 L754.00 477.02 L748.29 477.02 L742.58 477.02 L736.88 477.02 L731.17 477.02 L725.46 477.02 L719.75 477.02 L714.04 477.02 L708.33 477.02 L702.62 477.02 L696.92 477.02 L691.21 477.02 L685.50 477.02 L679.79 477.02 L674.08 477.02 L668.38 477.02 L662.67 477.02 L656.96 477.02 L651.25 477.02 L645.54 477.02 L639.83 477.02 L634.12 477.02 L628.42 477.02 L622.71 477.02 L617.00 477.02 L611.29 477.05 L605.58 477.15 L599.88 477.32 L594.17 477.55 L588.46 477.83 L582.75 478.17 L577.04 478.56 L571.33 478.99 L565.62 479.45 L559.92 479.94 L554.21 480.44 L548.50 480.95 L542.79 481.47 L537.08 481.97 L531.38 482.46 L525.67 482.92 L519.96 483.35 L514.25 483.73 L508.54 484.07 L502.83 484.36 L497.12 484.59 L491.42 484.75 L485.71 484.85 L480.00 484.89 L474.29 484.91 L468.58 484.98 L462.88 485.10 L457.17 485.26 L451.46 485.46 L445.75 485.70 L440.04 485.98 L434.33 486.28 L428.62 486.60 L422.92 486.95 L417.21 487.31 L411.50 487.67 L405.79 488.03 L400.08 488.39 L394.38 488.74 L388.67 489.06 L382.96 489.36 L377.25 489.64 L371.54 489.88 L365.83 490.08 L360.12 490.24 L354.42 490.36 L348.71 490.43 L343.00 490.45 L337.29 490.46 L331.58 490.50 L325.88 490.55 L320.17 490.63 L314.46 490.72 L308.75 490.83 L303.04 490.96 L297.33 491.10 L291.62 491.25 L285.92 491.41 L280.21 491.58 L274.50 491.75 L268.79 491.92 L263.08 492.08 L257.38 492.24 L251.67 492.40 L245.96 492.54 L240.25 492.66 L234.54 492.78 L228.83 492.87 L223.12 492.95 L217.42 493.00 L211.71 493.03 L206.00 493.04 L200.29 493.13 L194.58 493.37 L188.88 493.77 L183.17 494.33 L177.46 495.02 L171.75 495.85 L166.04 496.79 L160.33 497.83 L154.62 498.96 L148.92 500.14 L143.21 501.37 L137.50 502.62 L131.79 503.87 L126.08 505.10 L120.38 506.29 L114.67 507.41 L108.96 508.45 L103.25 509.39 L97.54 510.22 L91.83 510.92 L86.12 511.47 L80.42 511.87 L74.71 512.12 L69.00 512.20 Z" fill="none" stroke="#14222b" stroke-width="2" opacity="0.5"/></g>
<path d="M69.00 404.20 L74.71 404.28 L80.42 404.53 L86.12 404.93 L91.83 405.48 L97.54 406.18 L103.25 407.01 L108.96 407.95 L114.67 408.99 L120.38 410.11 L126.08 411.30 L131.79 412.53 L137.50 413.78 L143.21 415.03 L148.92 416.26 L154.62 417.44 L160.33 418.57 L166.04 419.61 L171.75 420.55 L177.46 421.38 L183.17 422.07 L188.88 422.63 L194.58 423.03 L200.29 423.27 L206.00 423.36 L211.71 423.37 L217.42 423.40 L223.12 423.45 L228.83 423.53 L234.54 423.62 L240.25 423.74 L245.96 423.86 L251.67 424.00 L257.38 424.16 L263.08 424.32 L268.79 424.48 L274.50 424.65 L280.21 424.82 L285.92 424.99 L291.62 425.15 L297.33 425.30 L303.04 425.44 L308.75 425.57 L314.46 425.68 L320.17 425.77 L325.88 425.85 L331.58 425.90 L337.29 425.94 L343.00 425.95 L348.71 425.97 L354.42 426.04 L360.12 426.16 L365.83 426.32 L371.54 426.52 L377.25 426.76 L382.96 427.04 L388.67 427.34 L394.38 427.66 L400.08 428.01 L405.79 428.37 L411.50 428.73 L417.21 429.09 L422.92 429.45 L428.62 429.80 L434.33 430.12 L440.04 430.42 L445.75 430.70 L451.46 430.94 L457.17 431.14 L462.88 431.30 L468.58 431.42 L474.29 431.49 L480.00 431.51 L485.71 431.55 L491.42 431.65 L497.12 431.81 L502.83 432.04 L508.54 432.33 L514.25 432.67 L519.96 433.05 L525.67 433.48 L531.38 433.94 L537.08 434.43 L542.79 434.93 L548.50 435.45 L554.21 435.96 L559.92 436.46 L565.62 436.95 L571.33 437.41 L577.04 437.84 L582.75 438.23 L588.46 438.57 L594.17 438.85 L599.88 439.08 L605.58 439.25 L611.29 439.35 L617.00 439.38 L622.71 439.38 L628.42 439.38 L634.12 439.38 L639.83 439.38 L645.54 439.38 L651.25 439.38 L656.96 439.38 L662.67 439.38 L668.38 439.38 L674.08 439.38 L679.79 439.38 L685.50 439.38 L691.21 439.38 L696.92 439.38 L702.62 439.38 L708.33 439.38 L714.04 439.38 L719.75 439.38 L725.46 439.38 L731.17 439.38 L736.88 439.38 L742.58 439.38 L748.29 439.38 L754.00 439.38 L754.00 477.02 L748.29 477.02 L742.58 477.02 L736.88 477.02 L731.17 477.02 L725.46 477.02 L719.75 477.02 L714.04 477.02 L708.33 477.02 L702.62 477.02 L696.92 477.02 L691.21 477.02 L685.50 477.02 L679.79 477.02 L674.08 477.02 L668.38 477.02 L662.67 477.02 L656.96 477.02 L651.25 477.02 L645.54 477.02 L639.83 477.02 L634.12 477.02 L628.42 477.02 L622.71 477.02 L617.00 477.02 L611.29 477.05 L605.58 477.15 L599.88 477.32 L594.17 477.55 L588.46 477.83 L582.75 478.17 L577.04 478.56 L571.33 478.99 L565.62 479.45 L559.92 479.94 L554.21 480.44 L548.50 480.95 L542.79 481.47 L537.08 481.97 L531.38 482.46 L525.67 482.92 L519.96 483.35 L514.25 483.73 L508.54 484.07 L502.83 484.36 L497.12 484.59 L491.42 484.75 L485.71 484.85 L480.00 484.89 L474.29 484.91 L468.58 484.98 L462.88 485.10 L457.17 485.26 L451.46 485.46 L445.75 485.70 L440.04 485.98 L434.33 486.28 L428.62 486.60 L422.92 486.95 L417.21 487.31 L411.50 487.67 L405.79 488.03 L400.08 488.39 L394.38 488.74 L388.67 489.06 L382.96 489.36 L377.25 489.64 L371.54 489.88 L365.83 490.08 L360.12 490.24 L354.42 490.36 L348.71 490.43 L343.00 490.45 L337.29 490.46 L331.58 490.50 L325.88 490.55 L320.17 490.63 L314.46 490.72 L308.75 490.83 L303.04 490.96 L297.33 491.10 L291.62 491.25 L285.92 491.41 L280.21 491.58 L274.50 491.75 L268.79 491.92 L263.08 492.08 L257.38 492.24 L251.67 492.40 L245.96 492.54 L240.25 492.66 L234.54 492.78 L228.83 492.87 L223.12 492.95 L217.42 493.00 L211.71 493.03 L206.00 493.04 L200.29 493.13 L194.58 493.37 L188.88 493.77 L183.17 494.33 L177.46 495.02 L171.75 495.85 L166.04 496.79 L160.33 497.83 L154.62 498.96 L148.92 500.14 L143.21 501.37 L137.50 502.62 L131.79 503.87 L126.08 505.10 L120.38 506.29 L114.67 507.41 L108.96 508.45 L103.25 509.39 L97.54 510.22 L91.83 510.92 L86.12 511.47 L80.42 511.87 L74.71 512.12 L69.00 512.20 Z" fill="url(#fg)"/>
<path d="M69.00 404.20 L74.71 404.28 L80.42 404.53 L86.12 404.93 L91.83 405.48 L97.54 406.18 L103.25 407.01 L108.96 407.95 L114.67 408.99 L120.38 410.11 L126.08 411.30 L131.79 412.53 L137.50 413.78 L143.21 415.03 L148.92 416.26 L154.62 417.44 L160.33 418.57 L166.04 419.61 L171.75 420.55 L177.46 421.38 L183.17 422.07 L188.88 422.63 L194.58 423.03 L200.29 423.27 L206.00 423.36 L211.71 423.37 L217.42 423.40 L223.12 423.45 L228.83 423.53 L234.54 423.62 L240.25 423.74 L245.96 423.86 L251.67 424.00 L257.38 424.16 L263.08 424.32 L268.79 424.48 L274.50 424.65 L280.21 424.82 L285.92 424.99 L291.62 425.15 L297.33 425.30 L303.04 425.44 L308.75 425.57 L314.46 425.68 L320.17 425.77 L325.88 425.85 L331.58 425.90 L337.29 425.94 L343.00 425.95 L348.71 425.97 L354.42 426.04 L360.12 426.16 L365.83 426.32 L371.54 426.52 L377.25 426.76 L382.96 427.04 L388.67 427.34 L394.38 427.66 L400.08 428.01 L405.79 428.37 L411.50 428.73 L417.21 429.09 L422.92 429.45 L428.62 429.80 L434.33 430.12 L440.04 430.42 L445.75 430.70 L451.46 430.94 L457.17 431.14 L462.88 431.30 L468.58 431.42 L474.29 431.49 L480.00 431.51 L485.71 431.55 L491.42 431.65 L497.12 431.81 L502.83 432.04 L508.54 432.33 L514.25 432.67 L519.96 433.05 L525.67 433.48 L531.38 433.94 L537.08 434.43 L542.79 434.93 L548.50 435.45 L554.21 435.96 L559.92 436.46 L565.62 436.95 L571.33 437.41 L577.04 437.84 L582.75 438.23 L588.46 438.57 L594.17 438.85 L599.88 439.08 L605.58 439.25 L611.29 439.35 L617.00 439.38 L622.71 439.38 L628.42 439.38 L634.12 439.38 L639.83 439.38 L645.54 439.38 L651.25 439.38 L656.96 439.38 L662.67 439.38 L668.38 439.38 L674.08 439.38 L679.79 439.38 L685.50 439.38 L691.21 439.38 L696.92 439.38 L702.62 439.38 L708.33 439.38 L714.04 439.38 L719.75 439.38 L725.46 439.38 L731.17 439.38 L736.88 439.38 L742.58 439.38 L748.29 439.38 L754.00 439.38 L754.00 477.02 L748.29 477.02 L742.58 477.02 L736.88 477.02 L731.17 477.02 L725.46 477.02 L719.75 477.02 L714.04 477.02 L708.33 477.02 L702.62 477.02 L696.92 477.02 L691.21 477.02 L685.50 477.02 L679.79 477.02 L674.08 477.02 L668.38 477.02 L662.67 477.02 L656.96 477.02 L651.25 477.02 L645.54 477.02 L639.83 477.02 L634.12 477.02 L628.42 477.02 L622.71 477.02 L617.00 477.02 L611.29 477.05 L605.58 477.15 L599.88 477.32 L594.17 477.55 L588.46 477.83 L582.75 478.17 L577.04 478.56 L571.33 478.99 L565.62 479.45 L559.92 479.94 L554.21 480.44 L548.50 480.95 L542.79 481.47 L537.08 481.97 L531.38 482.46 L525.67 482.92 L519.96 483.35 L514.25 483.73 L508.54 484.07 L502.83 484.36 L497.12 484.59 L491.42 484.75 L485.71 484.85 L480.00 484.89 L474.29 484.91 L468.58 484.98 L462.88 485.10 L457.17 485.26 L451.46 485.46 L445.75 485.70 L440.04 485.98 L434.33 486.28 L428.62 486.60 L422.92 486.95 L417.21 487.31 L411.50 487.67 L405.79 488.03 L400.08 488.39 L394.38 488.74 L388.67 489.06 L382.96 489.36 L377.25 489.64 L371.54 489.88 L365.83 490.08 L360.12 490.24 L354.42 490.36 L348.71 490.43 L343.00 490.45 L337.29 490.46 L331.58 490.50 L325.88 490.55 L320.17 490.63 L314.46 490.72 L308.75 490.83 L303.04 490.96 L297.33 491.10 L291.62 491.25 L285.92 491.41 L280.21 491.58 L274.50 491.75 L268.79 491.92 L263.08 492.08 L257.38 492.24 L251.67 492.40 L245.96 492.54 L240.25 492.66 L234.54 492.78 L228.83 492.87 L223.12 492.95 L217.42 493.00 L211.71 493.03 L206.00 493.04 L200.29 493.13 L194.58 493.37 L188.88 493.77 L183.17 494.33 L177.46 495.02 L171.75 495.85 L166.04 496.79 L160.33 497.83 L154.62 498.96 L148.92 500.14 L143.21 501.37 L137.50 502.62 L131.79 503.87 L126.08 505.10 L120.38 506.29 L114.67 507.41 L108.96 508.45 L103.25 509.39 L97.54 510.22 L91.83 510.92 L86.12 511.47 L80.42 511.87 L74.71 512.12 L69.00 512.20 Z" fill="none" stroke="#6af8ff" stroke-width="1.6" opacity="0.55" clip-path="url(#fcp)"/>
</svg>
<div class="a" style="left:68px;top:355.7px;width:2px;height:48.5px;background:linear-gradient(90deg,#215a6c 0 1px,rgba(33,90,108,0.45) 1px 2px)"></div>
<div class="t" style="left:75.00px;top:359.96px;font-size:6.6px;color:#9aa3ad;font-weight:normal;font-style:normal;transform:scaleX(0.920);">Start Onboarding</div>
<svg class="a" style="left:127px;top:360px" width="8" height="7" viewBox="-0.500 0.000 8.000 7.000"><path d="M1.3 5.7 L1.3 4.6 L4.6 1.3 Q5.1 0.8 5.6 1.3 Q6.1 1.8 5.6 2.3 L2.3 5.7 Z" fill="none" stroke="#8f99a4" stroke-width="0.75"/></svg>
<div class="t" style="left:75.00px;top:372.84px;font-size:10px;color:#f3f5f7;font-weight:bold;font-style:normal;transform:scale(1.125,0.880);transform-origin:0 8.00px;-webkit-text-stroke:0.15px #f3f5f7">46842</div>
<div class="a" style="left:75.5px;top:391.0px;width:4.5px;height:1px;background:#aeb5bd"></div>
<div class="a" style="left:205px;top:374.9px;width:2px;height:48.5px;background:linear-gradient(90deg,#215a6c 0 1px,rgba(33,90,108,0.45) 1px 2px)"></div>
<div class="a" style="left:204px;top:423.4px;width:4px;height:69.7px;background:linear-gradient(90deg,rgba(100,250,255,0.45) 0 1px,#276274 1px 3px,rgba(100,250,255,0.45) 3px 4px)"></div>
<div class="a" style="left:205px;top:493.0px;width:2px;height:13px;background:linear-gradient(#182c36 40%,rgba(24,44,54,0))"></div>
<div class="t" style="left:212.00px;top:379.12px;font-size:6.6px;color:#9aa3ad;font-weight:normal;font-style:normal;transform:scaleX(0.920);">Select Language</div>
<svg class="a" style="left:263px;top:379px" width="8" height="8" viewBox="-0.900 -0.200 8.000 8.000"><path d="M1.3 5.7 L1.3 4.6 L4.6 1.3 Q5.1 0.8 5.6 1.3 Q6.1 1.8 5.6 2.3 L2.3 5.7 Z" fill="none" stroke="#8f99a4" stroke-width="0.75"/></svg>
<div class="t" style="left:212.00px;top:392.00px;font-size:10px;color:#f3f5f7;font-weight:bold;font-style:normal;transform:scale(1.125,0.880);transform-origin:0 8.00px;-webkit-text-stroke:0.15px #f3f5f7">30225</div>
<div class="t" style="left:212.00px;top:405.52px;font-size:6.6px;color:#c3c9d0;font-weight:bold;font-style:normal;transform:scaleX(0.946);">65%</div>
<div class="a" style="left:342px;top:377.4px;width:2px;height:48.5px;background:linear-gradient(90deg,#215a6c 0 1px,rgba(33,90,108,0.45) 1px 2px)"></div>
<div class="a" style="left:341px;top:425.9px;width:4px;height:64.5px;background:linear-gradient(90deg,rgba(100,250,255,0.45) 0 1px,#276274 1px 3px,rgba(100,250,255,0.45) 3px 4px)"></div>
<div class="a" style="left:342px;top:490.5px;width:2px;height:13px;background:linear-gradient(#182c36 40%,rgba(24,44,54,0))"></div>
<div class="t" style="left:349.00px;top:381.71px;font-size:6.6px;color:#9aa3ad;font-weight:normal;font-style:normal;transform:scaleX(0.920);">Show Flashcard</div>
<svg class="a" style="left:398px;top:381px" width="8" height="8" viewBox="-0.800 -0.700 8.000 8.000"><path d="M1.3 5.7 L1.3 4.6 L4.6 1.3 Q5.1 0.8 5.6 1.3 Q6.1 1.8 5.6 2.3 L2.3 5.7 Z" fill="none" stroke="#8f99a4" stroke-width="0.75"/></svg>
<div class="t" style="left:349.00px;top:394.59px;font-size:10px;color:#f3f5f7;font-weight:bold;font-style:normal;transform:scale(1.125,0.880);transform-origin:0 8.00px;-webkit-text-stroke:0.15px #f3f5f7">27978</div>
<div class="t" style="left:349.00px;top:408.11px;font-size:6.6px;color:#c3c9d0;font-weight:bold;font-style:normal;transform:scaleX(0.946);">93%</div>
<div class="a" style="left:479px;top:383.0px;width:2px;height:48.5px;background:linear-gradient(90deg,#215a6c 0 1px,rgba(33,90,108,0.45) 1px 2px)"></div>
<div class="a" style="left:478px;top:431.5px;width:4px;height:53.4px;background:linear-gradient(90deg,rgba(100,250,255,0.45) 0 1px,#276274 1px 3px,rgba(100,250,255,0.45) 3px 4px)"></div>
<div class="a" style="left:479px;top:484.9px;width:2px;height:13px;background:linear-gradient(#182c36 40%,rgba(24,44,54,0))"></div>
<div class="t" style="left:486.00px;top:387.27px;font-size:6.6px;color:#9aa3ad;font-weight:normal;font-style:normal;transform:scaleX(0.920);">Choose Level</div>
<svg class="a" style="left:529px;top:387px" width="8" height="8" viewBox="-0.400 -0.300 8.000 8.000"><path d="M1.3 5.7 L1.3 4.6 L4.6 1.3 Q5.1 0.8 5.6 1.3 Q6.1 1.8 5.6 2.3 L2.3 5.7 Z" fill="none" stroke="#8f99a4" stroke-width="0.75"/></svg>
<div class="t" style="left:486.00px;top:400.15px;font-size:10px;color:#f3f5f7;font-weight:bold;font-style:normal;transform:scale(1.125,0.880);transform-origin:0 8.00px;-webkit-text-stroke:0.15px #f3f5f7">23149</div>
<div class="t" style="left:486.00px;top:413.67px;font-size:6.6px;color:#c3c9d0;font-weight:bold;font-style:normal;transform:scaleX(0.946);">83%</div>
<div class="a" style="left:616px;top:390.9px;width:2px;height:48.5px;background:linear-gradient(90deg,#215a6c 0 1px,rgba(33,90,108,0.45) 1px 2px)"></div>
<div class="a" style="left:615px;top:439.4px;width:4px;height:37.6px;background:linear-gradient(90deg,rgba(100,250,255,0.45) 0 1px,#276274 1px 3px,rgba(100,250,255,0.45) 3px 4px)"></div>
<div class="a" style="left:616px;top:477.0px;width:2px;height:13px;background:linear-gradient(#182c36 40%,rgba(24,44,54,0))"></div>
<div class="t" style="left:623.00px;top:395.14px;font-size:6.6px;color:#9aa3ad;font-weight:normal;font-style:normal;transform:scaleX(0.920);">Read First Story</div>
<svg class="a" style="left:673px;top:395px" width="8" height="8" viewBox="-0.200 -0.200 8.000 8.000"><path d="M1.3 5.7 L1.3 4.6 L4.6 1.3 Q5.1 0.8 5.6 1.3 Q6.1 1.8 5.6 2.3 L2.3 5.7 Z" fill="none" stroke="#8f99a4" stroke-width="0.75"/></svg>
<div class="t" style="left:623.00px;top:408.02px;font-size:10px;color:#f3f5f7;font-weight:bold;font-style:normal;transform:scale(1.064,0.880);transform-origin:0 8.00px;-webkit-text-stroke:0.15px #f3f5f7">16326</div>
<div class="t" style="left:623.00px;top:421.54px;font-size:6.6px;color:#c3c9d0;font-weight:bold;font-style:normal;transform:scaleX(0.946);">71%</div></body></html>
